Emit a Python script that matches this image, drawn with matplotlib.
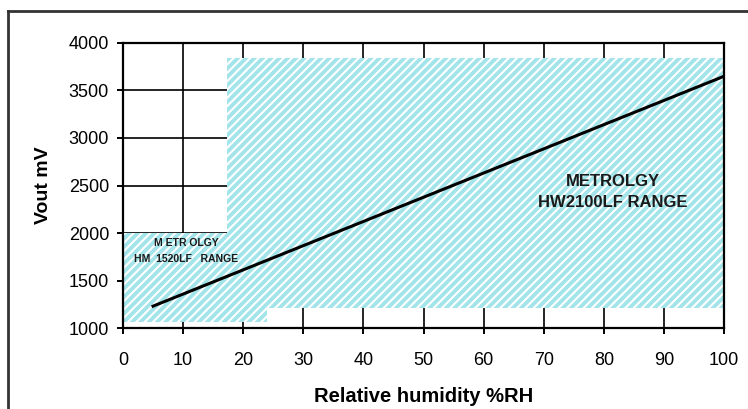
"""Vout vs relative humidity with the two Metrology sensor ranges shaded."""

import matplotlib.pyplot as plt
from matplotlib.lines import Line2D

plt.rcParams["font.family"] = ["Liberation Sans", "DejaVu Sans"]
plt.rcParams["hatch.color"] = "white"
plt.rcParams["hatch.linewidth"] = 1.5

# -----------------------------------------------------------------------------
# Data
# -----------------------------------------------------------------------------
rh = [5, 100]
vout = [1230, 3650]

hm1520_x = [0, 24]
hm1520_y = [1060, 2000]
hw2100_x = [17.3, 100]
hw2100_y = [1210, 3840]

x_ticks = [0, 10, 20, 30, 40, 50, 60, 70, 80, 90, 100]
y_ticks = [1000, 1500, 2000, 2500, 3000, 3500, 4000]

FILL = "#a3e4ea"

# -----------------------------------------------------------------------------
# Plot
# -----------------------------------------------------------------------------
fig = plt.figure(figsize=(7.48, 4.09), dpi=100)
ax = fig.add_axes([0.1644, 0.198, 0.8036, 0.6969])

ax.set_xlim(0, 100)
ax.set_ylim(1000, 4000)
ax.set_xticks(x_ticks)
ax.set_yticks(y_ticks)
ax.grid(True, color="black", linewidth=1.2, zorder=0)
ax.set_axisbelow(True)

for xs, ys in ((hm1520_x, hm1520_y), (hw2100_x, hw2100_y)):
    ax.fill_between(xs, [ys[0]] * 2, [ys[1]] * 2, facecolor=FILL,
                    hatch="////", linewidth=0, zorder=1)

ax.plot(rh, vout, color="black", linewidth=2.2, zorder=3)

ax.text(81.5, 2537, "METROLGY", ha="center", va="center",
        fontsize=12, fontweight="bold", color="#1a1a1a", zorder=4)
ax.text(81.5, 2316, "HW2100LF RANGE", ha="center", va="center",
        fontsize=12, fontweight="bold", color="#1a1a1a", zorder=4)
ax.text(10.5, 1895, "M ETR OLGY", ha="center", va="center",
        fontsize=7.5, fontweight="bold", color="#1a1a1a", zorder=4)
ax.text(10.5, 1726, "HM  1520LF   RANGE", ha="center", va="center",
        fontsize=7.5, fontweight="bold", color="#1a1a1a", zorder=4)

for s in ax.spines.values():
    s.set_linewidth(1.6)
    s.set_zorder(5)

ax.tick_params(axis="both", direction="out", length=4, width=1.4,
               labelsize=13, colors="black")
ax.tick_params(axis="x", pad=13)
ax.tick_params(axis="y", pad=6)

ax.set_xlabel("Relative humidity %RH", fontsize=14.5, fontweight="bold",
              labelpad=13)
ax.set_ylabel("Vout mV", fontsize=14, fontweight="bold", labelpad=12)

# outer frame (only left and top edges are visible in the reference)
fig.add_artist(Line2D([8 / 748, 8 / 748], [0, 1 - 11 / 409],
                      transform=fig.transFigure, color="#333333", linewidth=2))
fig.add_artist(Line2D([8 / 748, 1], [1 - 11 / 409, 1 - 11 / 409],
                      transform=fig.transFigure, color="#333333", linewidth=2))

fig.savefig("out.png", dpi=100)
